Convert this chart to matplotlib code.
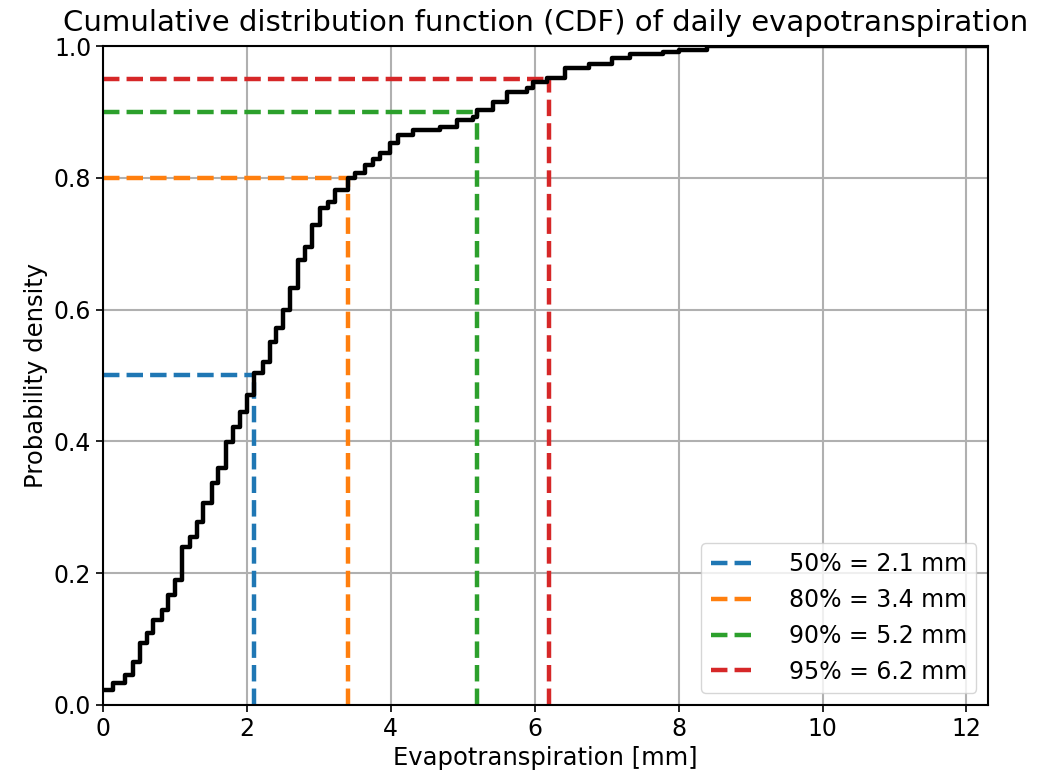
import matplotlib
matplotlib.use("Agg")
import matplotlib.pyplot as plt

# ECDF staircase (value in mm, cumulative probability after the step)
et_values = [0.0, 0.14, 0.30, 0.42, 0.51, 0.61, 0.70, 0.82, 0.90, 1.00,
             1.10, 1.21, 1.30, 1.39, 1.51, 1.60, 1.71, 1.81, 1.90, 2.00,
             2.10, 2.22, 2.32, 2.41, 2.50, 2.60, 2.71, 2.80, 2.90, 3.01,
             3.12, 3.22, 3.40, 3.50, 3.64, 3.75, 3.85, 3.99, 4.10, 4.31,
             4.68, 4.92, 5.14, 5.20, 5.42, 5.61, 5.89, 5.97, 6.17, 6.42,
             6.76, 7.08, 7.32, 7.78, 8.00, 8.40, 12.30]
cdf_values = [0.023, 0.033, 0.045, 0.065, 0.094, 0.109, 0.129, 0.144, 0.167, 0.190,
              0.240, 0.255, 0.278, 0.306, 0.337, 0.360, 0.399, 0.422, 0.445, 0.470,
              0.504, 0.520, 0.551, 0.572, 0.600, 0.633, 0.675, 0.695, 0.728, 0.754,
              0.763, 0.781, 0.800, 0.807, 0.820, 0.828, 0.838, 0.853, 0.865, 0.872,
              0.877, 0.888, 0.892, 0.903, 0.915, 0.930, 0.936, 0.945, 0.951, 0.967,
              0.973, 0.982, 0.988, 0.991, 0.994, 1.000, 1.000]

percentiles = [0.50, 0.80, 0.90, 0.95]
pct_values = [2.1, 3.4, 5.2, 6.2]
pct_labels = ["50% = 2.1 mm", "80% = 3.4 mm", "90% = 5.2 mm", "95% = 6.2 mm"]
pct_colors = ["#1f77b4", "#ff7f0e", "#2ca02c", "#d62728"]

fig = plt.figure(figsize=(10.45, 7.84), dpi=100)
ax = fig.add_axes([0.0986, 0.1008, 0.8469, 0.8405])

ax.step(et_values, cdf_values, where="post", color="black", lw=3.2, zorder=3)

for p, v, lab, c in zip(percentiles, pct_values, pct_labels, pct_colors):
    ax.plot([0, v], [p, p], ls="--", color=c, lw=3.2, label=lab, zorder=2)
    ax.plot([v, v], [0, p], ls="--", color=c, lw=3.2, zorder=2)

ax.set_xlim(0, 12.3)
ax.set_ylim(0, 1.0)
ax.set_xticks([0, 2, 4, 6, 8, 10, 12])
ax.set_yticks([0.0, 0.2, 0.4, 0.6, 0.8, 1.0])
ax.grid(True, color="#b0b0b0", lw=1.5)
ax.set_axisbelow(True)
ax.tick_params(labelsize=17, width=1.2, length=5)
for s in ax.spines.values():
    s.set_linewidth(1.5)

ax.set_xlabel("Evapotranspiration [mm]", fontsize=17.5)
ax.set_ylabel("Probability density", fontsize=17.5)
ax.set_title("Cumulative distribution function (CDF) of daily evapotranspiration",
             fontsize=21, pad=11)
ax.legend(loc="lower right", fontsize=17, handlelength=2.0, handletextpad=1.3)

fig.savefig("out.png", dpi=100)
